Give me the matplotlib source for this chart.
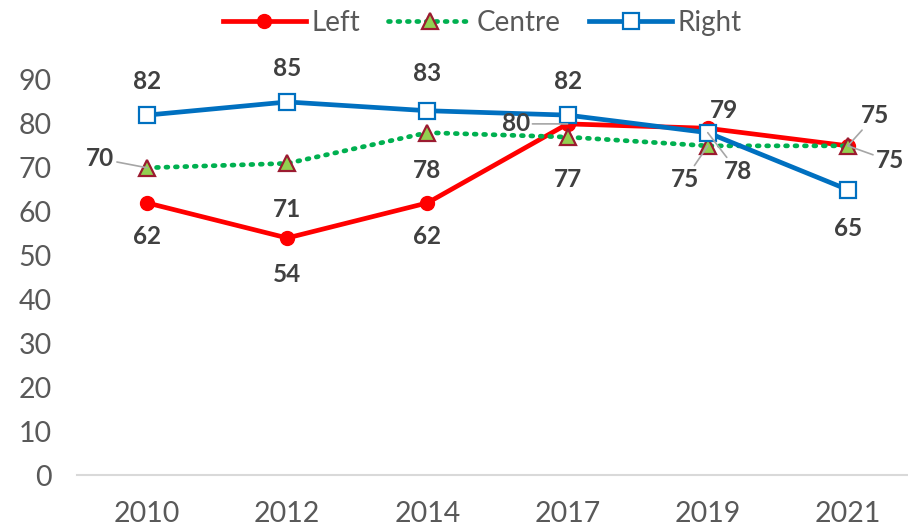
import matplotlib.pyplot as plt

plt.rcParams['font.family'] = ['Lato', 'DejaVu Sans']

years = ['2010', '2012', '2014', '2017', '2019', '2021']
left = [62, 54, 62, 80, 79, 75]
centre = [70, 71, 78, 77, 75, 75]
right = [82, 85, 83, 82, 78, 65]

fig = plt.figure(figsize=(9.08, 5.31), dpi=100)
ax = fig.add_axes([77 / 908, 56 / 531, 841 / 908, 395 / 531])
x = range(len(years))

ax.plot(x, left, color='#FF0000', lw=3.4, marker='o', ms=10,
        mfc='#FF0000', mec='#FF0000', label='Left', zorder=3)
ax.plot(x, centre, color='#00B050', lw=3.4, ls=(0, (0.4, 1.6)),
        dash_capstyle='round', marker='^', ms=11.5, mfc='#92D050',
        mec='#9B1B30', mew=1.6, label='Centre', zorder=4)
ax.plot(x, right, color='#0070C0', lw=3.4, marker='s', ms=11,
        mfc='white', mec='#0070C0', mew=1.6, label='Right', zorder=5)

ax.set_xlim(-0.5, 5.5)
ax.set_ylim(0, 90)
ax.set_yticks(range(0, 91, 10))
ax.set_xticks(list(x))
ax.set_xticklabels(years)
ax.tick_params(axis='both', length=0, labelsize=20.5, labelcolor='#595959')
ax.tick_params(axis='x', pad=19)
ax.tick_params(axis='y', pad=18)
for s in ['top', 'right', 'left']:
    ax.spines[s].set_visible(False)
ax.spines['bottom'].set_color('#D9D9D9')
ax.spines['bottom'].set_linewidth(1.5)

lab = dict(fontsize=17.5, fontweight='bold', color='#404040',
           ha='center', va='center', zorder=6)
lead = dict(arrowstyle='-', color='#A6A6A6', lw=1.2, shrinkA=0, shrinkB=0)

def put(i, v, dx, dy, leader=False):
    if leader:
        ax.annotate(str(v), (i, v), xytext=(dx, dy), textcoords='offset pixels',
                    arrowprops=lead, **lab)
    else:
        ax.annotate(str(v), (i, v), xytext=(dx, dy), textcoords='offset pixels', **lab)

# Left
put(0, left[0], 0, -34)
put(1, left[1], 0, -36)
put(2, left[2], 0, -34)
put(3, left[3], -52, 0, True)
put(4, left[4], 16, 18)
put(5, left[5], 27, 30, True)
# Centre
put(0, centre[0], -47, 9, True)
put(1, centre[1], 0, -46)
put(2, centre[2], 0, -38)
put(3, centre[3], 0, -42)
put(4, centre[4], -23, -34, True)
put(5, centre[5], 42, -15, True)
# Right
put(0, right[0], 0, 34)
put(1, right[1], 0, 33)
put(2, right[2], 0, 37)
put(3, right[3], 0, 34)
put(4, right[4], 30, -39, True)
put(5, right[5], 0, -39)

ax.legend(loc='upper center', bbox_to_anchor=(0.482, 1.24), ncol=3,
          frameon=False, fontsize=20, labelcolor='#595959', handlelength=3.0,
          columnspacing=1.0, handletextpad=0.2)

fig.savefig('out.png', dpi=100)
